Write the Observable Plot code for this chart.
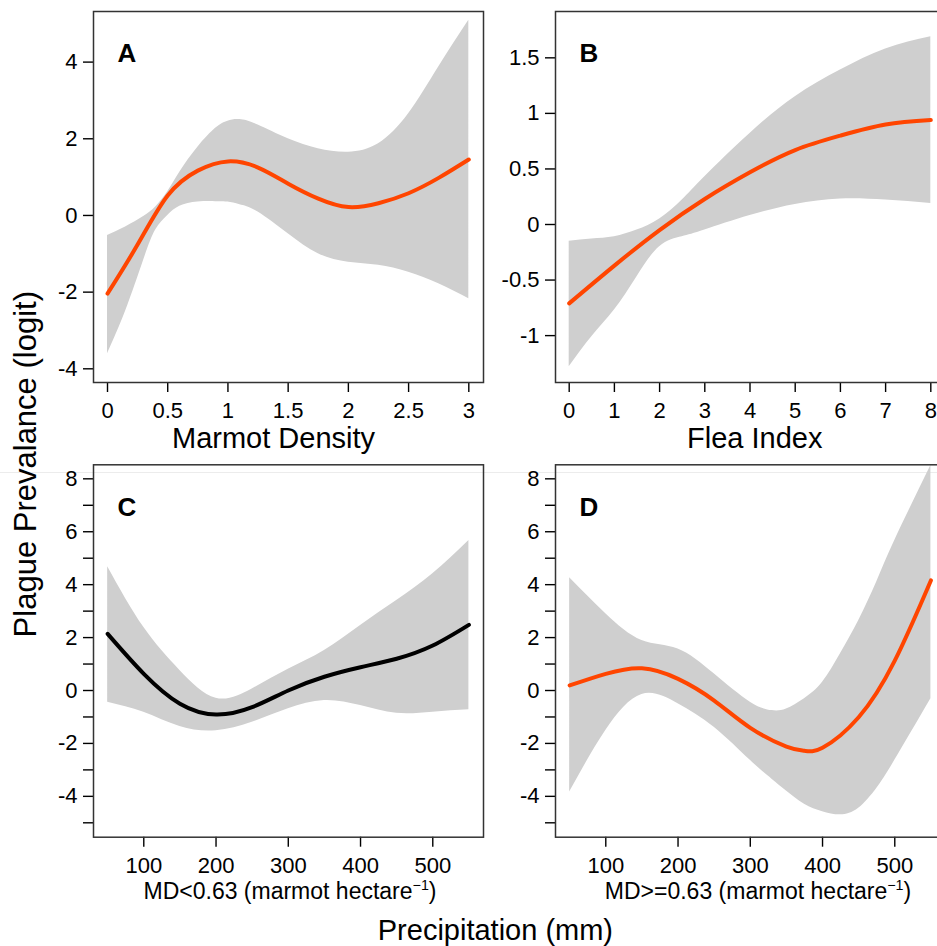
<!DOCTYPE html>
<html><head><meta charset="utf-8">
<script src="https://cdn.jsdelivr.net/npm/d3@7"></script>
<script src="https://cdn.jsdelivr.net/npm/@observablehq/plot@0.6"></script>
<style>
body{margin:0;background:#fff;}
#wrap{position:relative;width:937px;height:946px;overflow:hidden;font-family:"Liberation Sans",Arial,sans-serif;color:#000;background:#fff;}
.lbl{position:absolute;white-space:nowrap;line-height:1;text-align:center;width:600px;}
.lbl sup{font-size:0.62em;line-height:0;vertical-align:0.6em;}
#artifact{position:absolute;left:0;top:472px;width:937px;height:1px;background:#ececec;}
</style></head><body><div id="wrap"><div id="artifact"></div></div>
<script>
// ---------- Panel A: Marmot Density ----------
const aLineX = [0, 0.25, 0.5, 0.75, 1, 1.25, 1.5, 1.75, 2, 2.25, 2.5, 2.75, 3];
const aLineY = [-2.04, -0.76, 0.52, 1.17, 1.41, 1.25, 0.83, 0.44, 0.22, 0.32, 0.58, 0.98, 1.46];
const aBandX = [0, 0.15, 0.3, 0.4, 0.5, 0.6, 0.75, 0.9, 1.0, 1.1, 1.25, 1.5, 1.75, 2, 2.25, 2.5, 2.75, 3];
const aBandHi = [-0.52, -0.30, -0.03, 0.22, 0.62, 1.13, 1.78, 2.28, 2.46, 2.50, 2.36, 2.0, 1.74, 1.65, 1.87, 2.65, 3.87, 5.09];
const aBandLo = [-3.61, -2.5, -1.17, -0.38, 0.0, 0.24, 0.35, 0.36, 0.35, 0.28, 0.09, -0.48, -1.0, -1.22, -1.30, -1.48, -1.78, -2.17];
const aXTicks = [0, 0.5, 1, 1.5, 2, 2.5, 3];
const aYTicks = [-4, -2, 0, 2, 4];

// ---------- Panel B: Flea Index ----------
const bLineX = [0, 1, 2, 3, 4, 5, 6, 7, 8];
const bLineY = [-0.71, -0.37, -0.05, 0.23, 0.47, 0.67, 0.80, 0.90, 0.94];
const bBandX = [0, 0.5, 1, 1.5, 2, 2.5, 3, 4, 5, 6, 7, 8];
const bBandHi = [-0.15, -0.13, -0.11, -0.05, 0.05, 0.22, 0.43, 0.82, 1.15, 1.39, 1.58, 1.69];
const bBandLo = [-1.28, -1.01, -0.77, -0.47, -0.20, -0.11, -0.05, 0.08, 0.18, 0.23, 0.22, 0.19];
const bXTicks = [0, 1, 2, 3, 4, 5, 6, 7, 8];
const bYTicks = [-1, -0.5, 0, 0.5, 1, 1.5];

// ---------- Panel C: Precipitation, MD<0.63 ----------
const cLineX = [50, 100, 150, 200, 250, 300, 350, 400, 450, 500, 550];
const cLineY = [2.14, 0.63, -0.50, -0.91, -0.63, 0.0, 0.52, 0.88, 1.20, 1.70, 2.48];
const cBandX = [50, 100, 150, 200, 250, 300, 350, 400, 450, 500, 550];
const cBandHi = [4.68, 2.39, 0.76, -0.29, 0.06, 0.80, 1.51, 2.46, 3.40, 4.41, 5.67];
const cBandLo = [-0.44, -0.82, -1.36, -1.52, -1.20, -0.69, -0.38, -0.57, -0.86, -0.82, -0.73];

// ---------- Panel D: Precipitation, MD>=0.63 ----------
const dLineX = [50, 100, 150, 200, 250, 300, 350, 375, 400, 450, 500, 550];
const dLineY = [0.19, 0.63, 0.84, 0.44, -0.38, -1.41, -2.12, -2.28, -2.16, -1.01, 1.13, 4.16];
const dBandX = [50, 100, 150, 200, 250, 300, 330, 350, 375, 400, 425, 450, 475, 500, 550];
const dBandHi = [4.26, 2.90, 1.89, 1.57, 0.63, -0.44, -0.76, -0.70, -0.31, 0.31, 1.40, 2.64, 4.10, 5.67, 8.50];
const dBandLo = [-3.84, -1.51, -0.15, -0.50, -1.39, -2.64, -3.35, -3.80, -4.30, -4.58, -4.70, -4.45, -3.70, -2.64, -0.31];

const cdXTicks = [100, 200, 300, 400, 500];
const cdYTicks = [-5, -4, -3, -2, -1, 0, 1, 2, 3, 4, 5, 6, 7, 8];

const FONT = '"Liberation Sans", Arial, sans-serif';
const ORANGE = "#ff4500";
const wrap = document.getElementById("wrap");

function panel(o) {
  const band = o.bandX.map((x, i) => ({x, lo: o.bandLo[i], hi: o.bandHi[i]}));
  const line = o.lineX.map((x, i) => ({x, y: o.lineY[i]}));
  const svg = Plot.plot({
    width: o.width, height: o.height,
    marginLeft: o.ml, marginRight: o.mr, marginTop: o.mt, marginBottom: o.mb,
    x: {domain: o.xDomain},
    y: {domain: o.yDomain},
    style: {fontFamily: FONT, fontSize: "22px", color: "#000", background: "transparent", overflow: "visible"},
    marks: [
      Plot.areaY(band, {x: "x", y1: "lo", y2: "hi", fill: "#cfcfcf", curve: "natural", clip: true}),
      Plot.lineY(line, {x: "x", y: "y", stroke: o.color, strokeWidth: 4, curve: "natural", clip: true}),
      Plot.axisX({ticks: o.xTicks, tickSize: 10, tickPadding: 10, tickFormat: d => String(d), label: null, strokeWidth: 1.4}),
      Plot.axisY({ticks: o.yTicks, tickSize: 10, tickPadding: 6, tickFormat: o.yFmt, label: null, strokeWidth: 1.4}),
      Plot.frame({stroke: "#333", strokeWidth: 1.5}),
      Plot.text([o.letter], {frameAnchor: "top-left", dx: 24, dy: 42.5, text: d => d, fontWeight: "bold", fontSize: 26, textAnchor: "start", lineAnchor: "middle", fill: "#000"})
    ]
  });
  svg.style.position = "absolute";
  svg.style.left = o.left + "px";
  svg.style.top = o.top + "px";
  svg.style.maxWidth = "none";
  wrap.appendChild(svg);
}

const plain = d => String(d);
const evenOnly = d => (d % 2 === 0 ? String(d) : "");

panel({letter: "A", left: 0, top: 0, width: 485, height: 460, ml: 93, mr: 2, mt: 11, mb: 78,
  xDomain: [-0.1163, 3.122], yDomain: [-4.357, 5.32],
  lineX: aLineX, lineY: aLineY, bandX: aBandX, bandHi: aBandHi, bandLo: aBandLo,
  xTicks: aXTicks, yTicks: aYTicks, yFmt: plain, color: ORANGE});

panel({letter: "B", left: 467, top: 0, width: 480, height: 460, ml: 88, mr: 2, mt: 11, mb: 78,
  xDomain: [-0.303, 8.325], yDomain: [-1.422, 1.917],
  lineX: bLineX, lineY: bLineY, bandX: bBandX, bandHi: bBandHi, bandLo: bBandLo,
  xTicks: bXTicks, yTicks: bYTicks, yFmt: plain, color: ORANGE});

panel({letter: "C", left: 0, top: 440, width: 485, height: 506, ml: 93, mr: 2, mt: 24.3, mb: 109.3,
  xDomain: [30.4, 570.2], yDomain: [-5.544, 8.53],
  lineX: cLineX, lineY: cLineY, bandX: cBandX, bandHi: cBandHi, bandLo: cBandLo,
  xTicks: cdXTicks, yTicks: cdYTicks, yFmt: evenOnly, color: "#000"});

panel({letter: "D", left: 467, top: 440, width: 480, height: 506, ml: 88, mr: 2, mt: 24.3, mb: 109.3,
  xDomain: [30.4, 570.2], yDomain: [-5.544, 8.53],
  lineX: dLineX, lineY: dLineY, bandX: dBandX, bandHi: dBandHi, bandLo: dBandLo,
  xTicks: cdXTicks, yTicks: cdYTicks, yFmt: evenOnly, color: ORANGE});

function label(html, cx, cy, fs, rotate) {
  const d = document.createElement("div");
  d.className = "lbl";
  d.innerHTML = html;
  d.style.fontSize = fs + "px";
  d.style.left = (cx - 300) + "px";
  d.style.top = (cy - 0.49 * fs) + "px";
  if (rotate) { d.style.transform = "rotate(-90deg)"; d.style.transformOrigin = "50% 49%"; }
  wrap.appendChild(d);
}
label("Marmot Density", 273.5, 438, 29);
label("Flea Index", 754.7, 438, 29);
label("MD&lt;0.63 (marmot hectare<sup>−1</sup>)", 290, 891.7, 23);
label("MD&gt;=0.63 (marmot hectare<sup>−1</sup>)", 758, 891.7, 23);
label("Precipitation (mm)", 495.4, 930, 29);
label("Plague Prevalance (logit)", 25, 464, 31, true);
</script>
</body></html>
